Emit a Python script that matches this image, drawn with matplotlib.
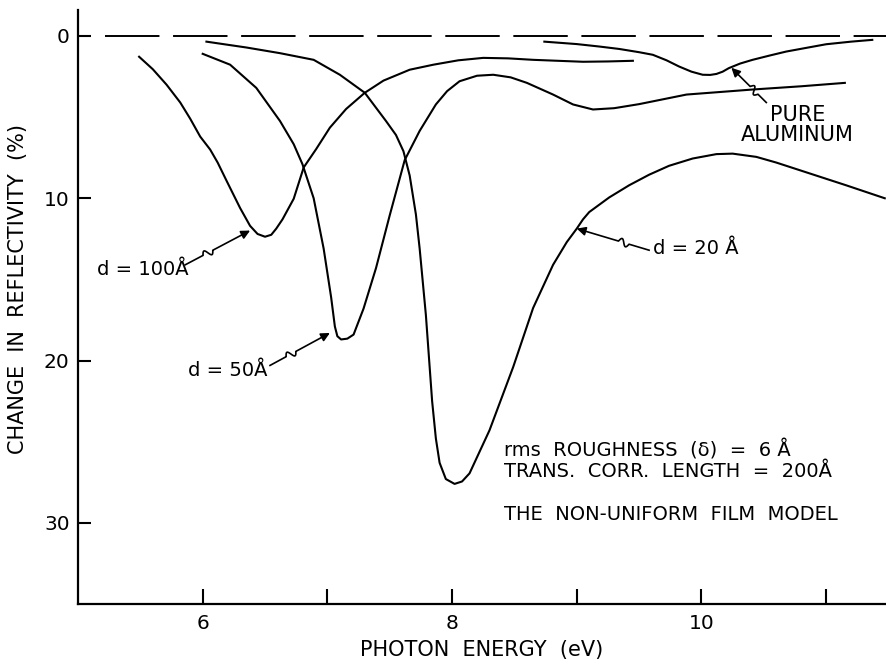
import numpy as np
import matplotlib
matplotlib.use("Agg")
import matplotlib.pyplot as plt

# ---------------- data ----------------
x_d100 = [5.49, 5.60, 5.71, 5.82, 5.90, 5.98, 6.06, 6.12, 6.19, 6.30, 6.38, 6.44, 6.50, 6.55,
          6.59, 6.64, 6.73, 6.81, 6.91, 7.02, 7.15, 7.30, 7.45, 7.66, 7.85, 8.05, 8.25, 8.45,
          8.65, 8.85, 9.05, 9.25, 9.45]
y_d100 = [1.28, 2.05, 3.0, 4.1, 5.1, 6.2, 7.0, 7.8, 8.9, 10.6, 11.7, 12.2, 12.37, 12.25,
          11.87, 11.3, 10.03, 8.1, 6.97, 5.65, 4.5, 3.5, 2.75, 2.08, 1.77, 1.5, 1.35, 1.38,
          1.47, 1.53, 1.59, 1.57, 1.53]

x_d50 = [6.00, 6.22, 6.43, 6.62, 6.73, 6.80, 6.89, 6.97, 7.03, 7.06, 7.08, 7.11, 7.16, 7.21,
         7.29, 7.39, 7.50, 7.62, 7.74, 7.87, 7.96, 8.06, 8.20, 8.33, 8.47, 8.60, 8.81, 8.97,
         9.13, 9.30, 9.50, 9.88, 10.41, 10.80, 11.15]
y_d50 = [1.1, 1.77, 3.2, 5.24, 6.67, 7.9, 10.0, 13.1, 16.1, 17.9, 18.5, 18.7, 18.65, 18.4,
         16.8, 14.3, 11.05, 7.65, 5.85, 4.22, 3.4, 2.79, 2.45, 2.39, 2.55, 2.89, 3.61, 4.22,
         4.53, 4.45, 4.2, 3.61, 3.3, 3.1, 2.89]

x_d20 = [6.03, 6.35, 6.62, 6.89, 7.10, 7.30, 7.47, 7.55, 7.61, 7.66, 7.71, 7.74, 7.79, 7.84,
         7.87, 7.90, 7.95, 8.02, 8.08, 8.14, 8.30, 8.49, 8.65, 8.81, 8.92, 9.00, 9.05, 9.10,
         9.26, 9.42, 9.58, 9.74, 9.93, 10.12, 10.25, 10.44, 10.60, 10.76, 11.16, 11.47]
y_d20 = [0.35, 0.71, 1.06, 1.47, 2.39, 3.5, 5.24, 6.1, 7.1, 8.6, 11.0, 13.1, 17.2, 22.5,
         24.8, 26.3, 27.3, 27.6, 27.45, 26.95, 24.3, 20.4, 16.76, 14.1, 12.7, 11.87, 11.3, 10.85,
         9.95, 9.2, 8.55, 8.0, 7.55, 7.28, 7.25, 7.45, 7.8, 8.2, 9.2, 10.0]

x_al = [8.74, 9.00, 9.18, 9.34, 9.50, 9.61, 9.72, 9.82, 9.92, 10.01, 10.07, 10.12, 10.17,
        10.22, 10.31, 10.41, 10.55, 10.68, 10.85, 11.00, 11.20, 11.37]
y_al = [0.35, 0.5, 0.65, 0.8, 1.0, 1.16, 1.5, 1.88, 2.2, 2.39, 2.4, 2.34, 2.2, 1.98, 1.7,
        1.47, 1.2, 0.96, 0.72, 0.51, 0.35, 0.24]

x_ticks = [6, 7, 8, 9, 10, 11]
x_ticklabels = ["6", "", "8", "", "10", ""]
y_ticks = [0, 10, 20, 30]
y_ticklabels = ["0", "10", "20", "30"]

# annotation: label, text position, arrow tail, arrow head
labels = ["d = 100Å", "d = 50Å", "d = 20 Å", "PURE\nALUMINUM"]
label_xy = [(5.15, 14.4), (5.88, 20.6), (9.61, 13.1), (10.77, 5.5)]
arrow_tail = [(5.86, 14.1), (6.54, 20.3), (9.58, 13.2), (10.52, 4.1)]
arrow_head = [(6.38, 11.99), (7.02, 18.3), (9.00, 11.87), (10.24, 1.96)]

info_lines = ["rms  ROUGHNESS  (δ)  =  6 Å", "TRANS.  CORR.  LENGTH  =  200Å",
              "THE  NON-UNIFORM  FILM  MODEL"]
info_xy = [(8.42, 25.5), (8.42, 26.85), (8.42, 29.5)]

# ---------------- figure ----------------
plt.rcParams['font.family'] = ['DejaVu Sans']
fig = plt.figure(figsize=(8.86, 6.65), dpi=100)
ax = fig.add_axes([78 / 886, 61 / 665, 808 / 886, 594 / 665])
ax.set_xlim(5.0, 11.48)
ax.set_ylim(35, -1.6)

for s in ("top", "right"):
    ax.spines[s].set_visible(False)
for s in ("left", "bottom"):
    ax.spines[s].set_linewidth(1.6)

ax.set_xticks(x_ticks)
ax.set_xticklabels(x_ticklabels)
ax.set_yticks(y_ticks)
ax.set_yticklabels(y_ticklabels)
ax.tick_params(axis='x', direction='in', length=11, width=1.5, labelsize=14.5, pad=7)
ax.tick_params(axis='y', direction='in', length=9, width=1.5, labelsize=14.5, pad=6)

lw = 1.5
ax.axhline(0, xmin=0.033, xmax=1.0, color='k', lw=1.4, dashes=(28, 7))
ax.plot(x_d100, y_d100, color='k', lw=lw)
ax.plot(x_d50, y_d50, color='k', lw=lw)
ax.plot(x_d20, y_d20, color='k', lw=lw)
ax.plot(x_al, y_al, color='k', lw=lw)

ax.set_xlabel("PHOTON  ENERGY  (eV)", fontsize=15, labelpad=5)
ax.set_ylabel("CHANGE  IN  REFLECTIVITY  (%)", fontsize=15)
ax.yaxis.set_label_coords(-0.062, 0.53)


def squiggle_arrow(ax, tail, head, frac=0.35, amp=3.5, length=11.0):
    T = ax.transData
    p0 = T.transform(tail)
    p1 = T.transform(head)
    d = p1 - p0
    L = np.hypot(d[0], d[1])
    u = d / L
    n = np.array([-u[1], u[0]])
    t = np.linspace(0, 1, 30)
    s = frac * L - length / 2 + t * length
    off = amp * np.sin(2 * np.pi * t)
    wav = p0 + np.outer(s, u) + np.outer(off, n)
    pts = np.vstack([p0, wav, p0 + u * (L - 9)])
    dat = T.inverted().transform(pts)
    ax.plot(dat[:, 0], dat[:, 1], color='k', lw=1.2)
    ax.annotate('', xy=head, xytext=(dat[-1, 0], dat[-1, 1]),
                arrowprops=dict(arrowstyle='-|>', color='k', lw=1.2,
                                mutation_scale=13, shrinkA=0, shrinkB=0))


for lab, xy, tl, hd in zip(labels, label_xy, arrow_tail, arrow_head):
    if "\n" in lab:
        ax.text(xy[0], xy[1], lab, fontsize=15, ha='center', va='center',
                linespacing=1.0)
    else:
        ax.text(xy[0], xy[1], lab, fontsize=14, ha='left', va='center')
    squiggle_arrow(ax, tl, hd)

for line, xy in zip(info_lines, info_xy):
    ax.text(xy[0], xy[1], line, fontsize=14, ha='left', va='center')

fig.savefig("out.png", dpi=100)
